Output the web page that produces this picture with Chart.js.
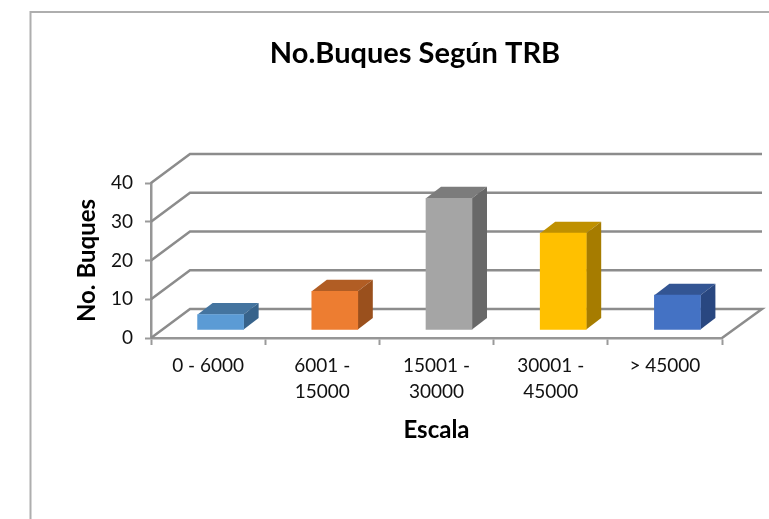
<!DOCTYPE html>
<html>
<head>
<meta charset="utf-8">
<style>html,body{margin:0;padding:0;background:#fff;overflow:hidden}canvas{display:block}</style>
<script src="https://cdn.jsdelivr.net/npm/chart.js@4"></script>
</head>
<body>
<canvas id="c" width="769" height="519"></canvas>
<script>
const categories = [["0 - 6000"], ["6001 -", "15000"], ["15001 -", "30000"], ["30001 -", "45000"], ["> 45000"]];
const values = [4, 10, 34, 25, 9];
const frontColors = ["#5B9BD5", "#ED7D31", "#A5A5A5", "#FFC000", "#4472C4"];
const topColors = ["#44749F", "#B15D24", "#7C7C7C", "#BF9000", "#335593"];
const sideColors = ["#37638B", "#9A501D", "#686868", "#A67C00", "#294780"];
const titleText = "No.Buques Según TRB";
const xTitle = "Escala";
const yTitle = "No. Buques";
const FONT = "Lato, Carlito, sans-serif";

const wall = {dx: 39, dy: 29, endX: 762};
const barShift = {dx: 12.5, dy: -8};
const barDepth = {dx: 15, dy: 11.5};
const GRID = "#8c8c8c";

const scene = {
  id: "scene",
  afterLayout(chart) {
    const t = chart.titleBlock;
    if (t) { t.left = 415 - 200; t.right = 415 + 200; }
  },
  beforeDraw(chart) {
    const c = chart.ctx;
    c.save();
    c.fillStyle = "#fff";
    c.fillRect(0, 0, chart.width, chart.height);
    c.strokeStyle = "#aeaeae";
    c.lineWidth = 2;
    c.beginPath();
    c.moveTo(30.5, chart.height);
    c.lineTo(30.5, 12);
    c.lineTo(chart.width, 12);
    c.stroke();
    c.restore();
  },
  beforeDatasetsDraw(chart) {
    const c = chart.ctx, y = chart.scales.y, a = chart.chartArea;
    c.save();
    c.strokeStyle = GRID;
    c.lineWidth = 2.5;
    y.ticks.forEach((t, i) => {
      const py = y.getPixelForTick(i);
      c.beginPath();
      c.moveTo(a.left, py);
      c.lineTo(a.left + wall.dx, py - wall.dy);
      c.lineTo(wall.endX, py - wall.dy);
      if (i === 0) c.lineTo(a.right, py);
      c.stroke();
    });
    c.restore();
    c.save();
    const bars = chart.getDatasetMeta(0).data;
    c.translate(barShift.dx, barShift.dy);
    bars.forEach((b, i) => {
      const l = b.x - b.width / 2, r = b.x + b.width / 2, top = b.y, base = b.base;
      c.fillStyle = topColors[i];
      c.beginPath();
      c.moveTo(l, top);
      c.lineTo(l + barDepth.dx, top - barDepth.dy);
      c.lineTo(r + barDepth.dx, top - barDepth.dy);
      c.lineTo(r, top);
      c.closePath();
      c.fill();
      c.fillStyle = sideColors[i];
      c.beginPath();
      c.moveTo(r, top);
      c.lineTo(r + barDepth.dx, top - barDepth.dy);
      c.lineTo(r + barDepth.dx, base - barDepth.dy);
      c.lineTo(r, base);
      c.closePath();
      c.fill();
    });
  },
  afterDatasetsDraw(chart) {
    chart.ctx.restore();
  }
};

new Chart(document.getElementById("c"), {
  type: "bar",
  plugins: [scene],
  data: {
    labels: categories,
    datasets: [{
      data: values,
      backgroundColor: frontColors,
      barThickness: 46,
      borderWidth: 0,
      clip: false
    }]
  },
  options: {
    responsive: false,
    animation: false,
    devicePixelRatio: 1,
    layout: {padding: {left: 60, right: 47, top: 0, bottom: 71}},
    plugins: {
      legend: {display: false},
      tooltip: {enabled: false},
      title: {
        display: true,
        text: titleText,
        color: "#000",
        font: {family: FONT, size: 29, weight: "bold", lineHeight: 1.2},
        padding: {top: 36.6, bottom: 111.6}
      }
    },
    scales: {
      x: {
        afterFit(s) { s.height = 110; },
        grid: {drawOnChartArea: false, drawTicks: true, tickLength: 7, tickColor: "#9a9a9a", tickWidth: 2, offset: true},
        border: {display: true, color: "#969696", width: 2.5},
        ticks: {color: "#111", font: {family: FONT, size: 19, lineHeight: 1.37}, maxRotation: 0, minRotation: 0, autoSkip: false, padding: 8},
        title: {display: true, text: xTitle, color: "#000", font: {family: FONT, size: 24, weight: "bold", lineHeight: 1.2}, padding: {top: 0, bottom: 3.6}}
      },
      y: {
        min: 0,
        max: 40,
        afterFit(s) { s.width = 91; },
        grid: {drawOnChartArea: false, drawTicks: true, tickLength: 6, tickColor: "#9a9a9a", tickWidth: 2},
        border: {display: true, color: "#969696", width: 2.5},
        ticks: {stepSize: 10, color: "#111", font: {family: FONT, size: 19}, padding: 12},
        title: {display: true, text: yTitle, color: "#000", font: {family: FONT, size: 24, weight: "bold", lineHeight: 1.2}, padding: {top: 12.6, bottom: 0}}
      }
    }
  }
});
</script>
</body>
</html>
